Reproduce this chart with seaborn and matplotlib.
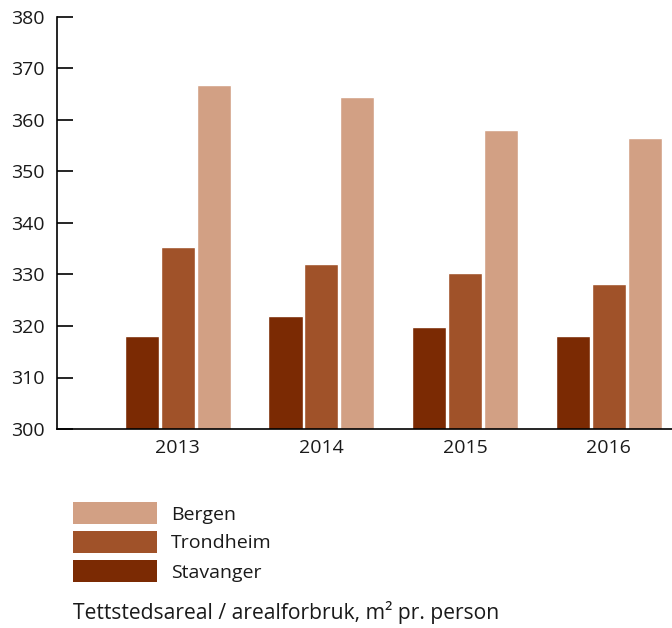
import matplotlib
matplotlib.use("Agg")
import matplotlib.pyplot as plt
import seaborn as sns
import pandas as pd
from matplotlib.patches import Rectangle

years = ["2013", "2014", "2015", "2016"]
cities = ["Stavanger", "Trondheim", "Bergen"]
stavanger = [318.0, 322.0, 319.8, 318.0]
trondheim = [335.3, 332.0, 330.3, 328.2]
bergen = [366.8, 364.5, 358.1, 356.5]
colors = {"Stavanger": "#7B2A03", "Trondheim": "#A05229", "Bergen": "#D2A084"}
yticks = [300, 310, 320, 330, 340, 350, 360, 370, 380]
caption = "Tettstedsareal / arealforbruk, m\u00b2 pr. person"

rows = []
for city, vals in zip(cities, [stavanger, trondheim, bergen]):
    for y, v in zip(years, vals):
        rows.append({"year": y, "city": city, "value": v})
df = pd.DataFrame(rows)

sns.set_style("white")
plt.rcParams["font.family"] = ["Open Sans", "DejaVu Sans"]

W, H = 672, 628
fig = plt.figure(figsize=(W / 100, H / 100), dpi=100)
ax = fig.add_axes([57 / W, (H - 429) / H, (W - 57) / W, (429 - 17) / H])

sns.barplot(data=df, x="year", y="value", hue="city", hue_order=cities,
            order=years, palette=colors, width=0.75, gap=0.05,
            saturation=1, ax=ax, legend=False, errorbar=None)

ax.set_ylim(300, 380)
ax.set_yticks(yticks)
ax.set_xlim(-0.84, 3.44)
ax.set_xlabel("")
ax.set_ylabel("")
for s in ["top", "right"]:
    ax.spines[s].set_visible(False)
for s in ["left", "bottom"]:
    ax.spines[s].set_color("black")
    ax.spines[s].set_linewidth(1.2)
ax.tick_params(axis="y", left=True, direction="in", length=11.5, width=1.2,
               color="black", labelsize=14, pad=9, labelcolor="#1a1a1a")
ax.tick_params(axis="x", bottom=False, length=0, labelsize=14, pad=7,
               labelcolor="#1a1a1a")

# legend (manual)
labels = ["Bergen", "Trondheim", "Stavanger"]
tops = [502, 531, 560]
for lab, t in zip(labels, tops):
    fig.add_artist(Rectangle((73 / W, (H - t - 22) / H), 84 / W, 22 / H,
                             transform=fig.transFigure, color=colors[lab], lw=0))
    fig.text(171 / W, (H - t - 12.5) / H, lab, fontsize=14, va="center",
             ha="left", color="#1a1a1a")

fig.text(73 / W, (H - 613) / H, caption, fontsize=15.2, va="center", ha="left",
         color="#1a1a1a")

fig.savefig("out.png", dpi=100)
